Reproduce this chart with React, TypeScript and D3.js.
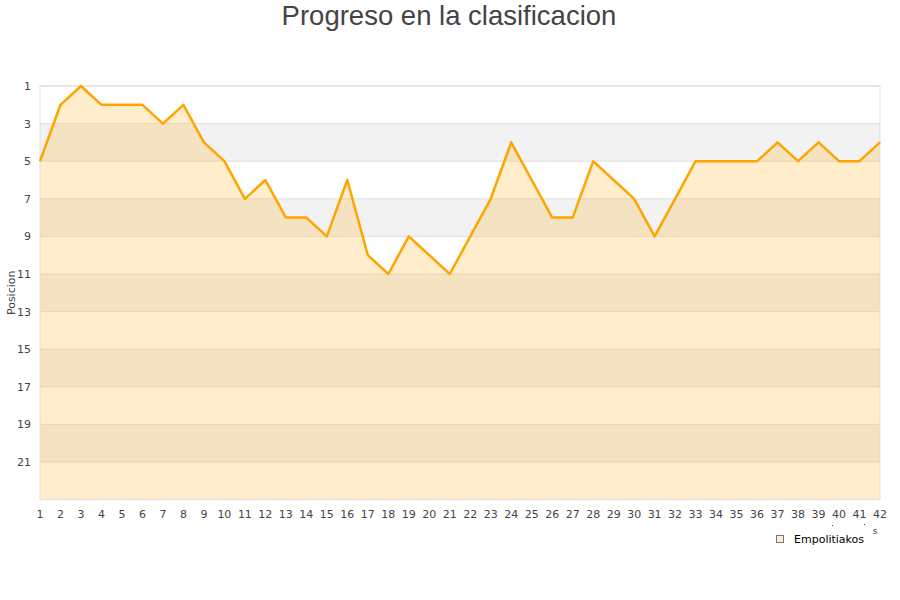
import React from "react";
import * as d3 from "d3";

const jornadas = d3.range(1, 43);
const posiciones = [5, 2, 1, 2, 2, 2, 3, 2, 4, 5, 7, 6, 8, 8, 9, 6, 10, 11, 9, 10, 11, 9, 7, 4, 6, 8, 8, 5, 6, 7, 9, 7, 5, 5, 5, 5, 4, 5, 4, 5, 5, 4];
const yTicks = [1, 3, 5, 7, 9, 11, 13, 15, 17, 19, 21];
const bands = [3, 7, 11, 15, 19];
const seriesName = "Empolitiakos";
const title = "Progreso en la clasificacion";
const yTitle = "Posicion";

export default function App() {
  const W = 900, H = 600;
  const left = 40, right = 880, top = 86, bottom = 499.6;
  const x = d3.scaleLinear().domain([1, 42]).range([left, right]);
  const y = d3.scaleLinear().domain([1, 23]).range([top, bottom]);
  const data = jornadas.map((j, i) => ({ j, p: posiciones[i] }));
  const line = d3.line<{ j: number; p: number }>().x(d => x(d.j)).y(d => y(d.p));
  const area = d3.area<{ j: number; p: number }>().x(d => x(d.j)).y0(y(23)).y1(d => y(d.p));
  const tickFont = "DejaVu Sans, Verdana, sans-serif";
  return (
    <svg width={W} height={H} style={{ position: "absolute", left: 0, top: 0, background: "#fff" }}>
      <text x={449} y={25} textAnchor="middle" fontFamily="Liberation Sans, Arial, sans-serif" fontSize={27.5} fill="#444">{title}</text>
      {bands.map(b => (
        <rect key={b} x={left} y={y(b)} width={right - left} height={y(b + 2) - y(b)} fill="#f2f2f2" />
      ))}
      {yTicks.map(t => (
        <line key={t} x1={left} x2={right} y1={y(t)} y2={y(t)} stroke="#e0e0e0" strokeWidth={1} />
      ))}
      <path d={area(data) || ""} fill="#ffa500" fillOpacity={0.2} />
      <rect x={left} y={top} width={right - left} height={bottom - top} fill="none" stroke="#dddddd" strokeWidth={1} />
      <path d={line(data) || ""} fill="none" stroke="#ffa500" strokeWidth={2.5} strokeLinejoin="round" />
      {yTicks.map(t => (
        <text key={t} x={31} y={y(t) + 4} textAnchor="end" fontFamily={tickFont} fontSize={11} fill="#444">{t}</text>
      ))}
      <text transform={`translate(15,${(top + bottom) / 2}) rotate(-90)`} textAnchor="middle" fontFamily={tickFont} fontSize={11} fill="#444">{yTitle}</text>
      {jornadas.map(j => (
        <text key={j} x={x(j)} y={518} textAnchor="middle" fontFamily={tickFont} fontSize={11} fill="#444">{j}</text>
      ))}
      <rect x={832} y={525} width={1} height={1} fill="#444" />
      <rect x={864} y={524} width={1} height={1} fill="#444" />
      <text x={875} y={534} textAnchor="middle" fontFamily={tickFont} fontSize={9} fill="#444">s</text>
      <rect x={776.5} y={535.5} width={7} height={7} fill="#ffedcc" stroke="#777" strokeWidth={1} />
      <text x={794} y={543} fontFamily={tickFont} fontSize={11} fill="#000">{seriesName}</text>
    </svg>
  );
}
